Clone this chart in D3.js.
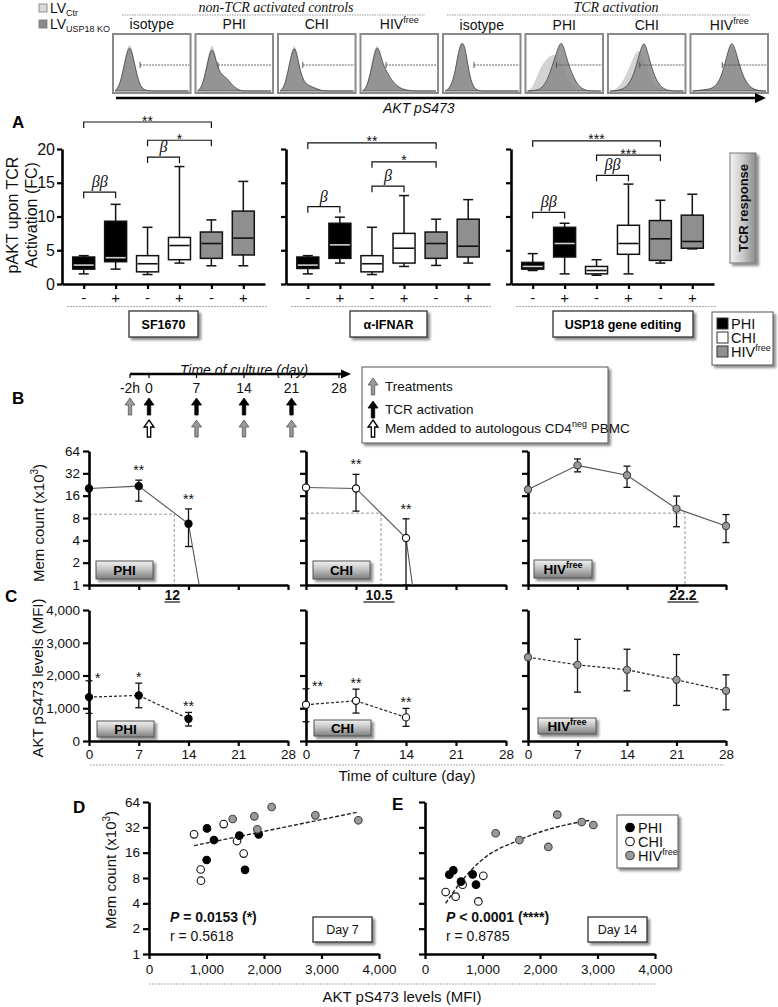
<!DOCTYPE html>
<html><head><meta charset="utf-8">
<script src="https://cdn.jsdelivr.net/npm/d3@7/dist/d3.min.js"></script>
<style>html,body{margin:0;padding:0;background:#fff}</style>
</head><body>
<svg id="fig" width="778" height="1007" xmlns="http://www.w3.org/2000/svg"></svg>
<script>
// ================= DATA =================
const lvNames = ["LV", "LV"];
const lvSubs = ["Ctr", "USP18 KO"];
const histGroupTitles = ["non-TCR activated controls", "TCR activation"];
const histLabels = ["isotype", "PHI", "CHI", "HIV", "isotype", "PHI", "CHI", "HIV"];
const histSup = ["", "", "", "free", "", "", "", "free"];
const histGate = [0.35, 0.29, 0.32, 0.33, 0.40, 0.40, 0.41, 0.41];
const histLight = [
  [0,0.1,0.6,1.0,0.55,0.12,0.02,0,0,0,0,0,0,0,0,0],
  [0,0.1,0.6,1.0,0.5,0.25,0.2,0.1,0.03,0,0,0,0,0,0,0],
  [0,0.1,0.6,1.0,0.45,0.15,0.08,0.08,0.03,0,0,0,0,0,0,0],
  [0,0.1,0.6,1.0,0.5,0.3,0.15,0.08,0.04,0.02,0,0,0,0,0,0],
  [0,0.05,0.3,0.95,0.9,0.3,0.05,0,0,0,0,0,0,0,0,0],
  [0,0.05,0.3,0.5,0.62,0.68,0.7,0.5,0.3,0.12,0.04,0.01,0,0,0,0],
  [0,0.02,0.1,0.25,0.45,0.7,0.8,0.6,0.35,0.15,0.05,0.01,0,0,0,0],
  [0,0.01,0.02,0.03,0.06,0.12,0.3,0.6,0.9,0.7,0.4,0.2,0.08,0.03,0.01,0]
];
const histDark = [
  [0,0.1,0.55,0.95,0.5,0.1,0.02,0,0,0,0,0,0,0,0,0],
  [0,0.08,0.5,0.92,0.45,0.3,0.25,0.12,0.04,0,0,0,0,0,0,0],
  [0,0.08,0.55,0.95,0.4,0.15,0.1,0.06,0.02,0,0,0,0,0,0,0],
  [0,0.08,0.5,0.95,0.55,0.35,0.2,0.1,0.04,0.02,0,0,0,0,0,0],
  [0,0.05,0.3,0.9,0.95,0.25,0.04,0,0,0,0,0,0,0,0,0],
  [0,0,0.02,0.06,0.2,0.45,0.75,1.0,0.6,0.35,0.15,0.05,0.01,0,0,0],
  [0,0,0.02,0.05,0.15,0.35,0.7,1.0,0.6,0.3,0.12,0.04,0.01,0,0,0],
  [0,0.01,0.02,0.03,0.05,0.12,0.3,0.65,1.0,0.7,0.35,0.15,0.05,0.02,0,0]
];

// Panel A : box stats [low, q1, median, q3, high]
const groupsA = ["PHI", "PHI", "CHI", "CHI", "HIV", "HIV"];
const condA = ["-", "+", "-", "+", "-", "+"];
const yTicksA = [0, 5, 10, 15, 20];
const statsSF1670 = [[1.5,2.2,2.8,4.0,4.2],[2.2,3.3,3.9,9.3,11.8],[1.4,1.8,3.0,4.2,8.4],[3.1,3.6,5.7,6.9,17.4],[2.7,3.8,6.0,7.7,9.5],[2.7,4.3,6.8,10.8,15.2]];
const statsIFNAR = [[1.5,2.3,2.8,4.0,4.2],[3.1,3.8,5.8,9.0,9.9],[1.4,1.8,3.0,4.2,8.4],[2.6,3.1,5.3,7.5,13.1],[2.75,3.8,6.0,7.7,9.6],[3.1,4.0,5.6,9.6,12.5]];
const statsUSP18 = [[2.0,2.2,2.6,3.2,4.5],[1.5,4.0,6.0,8.4,9.0],[1.3,1.5,2.0,2.6,3.6],[1.5,4.4,6.0,8.7,14.8],[3.1,3.5,6.7,9.4,12.4],[5.2,5.3,6.3,10.2,13.3]];
// brackets [fromBox, toBox, level(FC), label]
const bracketsSF1670 = [[0,4,24.0,"**"],[2,4,21.3,"*"],[2,3,18.8,"β"],[0,1,13.6,"ββ"]];
const bracketsIFNAR = [[0,4,20.9,"**"],[2,4,18.1,"*"],[2,3,14.5,"β"],[0,1,11.45,"β"]];
const bracketsUSP18 = [[0,4,21.2,"***"],[2,4,19.1,"***"],[2,3,16.1,"ββ"],[0,1,10.6,"ββ"]];
const treatmentTitles = ["SF1670", "α-IFNAR", "USP18 gene editing"];
const groupLegend = ["PHI", "CHI", "HIV"];

// Panel B timeline
const timelineTicks = ["-2h", "0", "7", "14", "21", "28"];
const timelineDays = [0, 7, 14, 21, 28];
const treatmentRow1 = ["-2h"];
const tcrDays = [0, 7, 14, 21];
const memAddedDays = [0];
const treatmentRow2 = [7, 14, 21];
const legendB = ["Treatments", "TCR activation", "Mem added to autologous CD4"];

// Panel B : Mem count (x10^3)
const daysPHI_B = [0, 7, 14, 15.5];
const countPHI = [20, 21.5, 6.7, 1];
const countPHI_lo = [null, 13.5, 3.3, null];
const countPHI_hi = [null, 25.9, 10.6, null];
const starsPHI_B = ["", "**", "**", ""];
const daysCHI_B = [0, 7, 14, 14.9];
const countCHI = [20.6, 20, 4.3, 1];
const countCHI_lo = [null, 9.9, 1, null];
const countCHI_hi = [null, 31, 7.8, null];
const starsCHI_B = ["", "**", "**", ""];
const daysHIV_B = [0, 7, 14, 21, 28];
const countHIV = [19.4, 41, 30.2, 10.7, 6.24];
const countHIV_lo = [null, 33.5, 20.7, 6.1, 3.73];
const countHIV_hi = [null, 50, 40, 15.8, 8.9];
const starsHIV_B = ["", "", "", "", ""];
const halfLevel = [9.0, 9.3, 9.3];
const halfDay = [12, 10.5, 22.2];
const halfLabel = ["12", "10.5", "22.2"];
const yTicksB = [1, 2, 4, 8, 16, 32, 64];

// Panel C : AKT pS473 (MFI)
const daysPHI_C = [0, 7, 14];
const aktPHI = [1340, 1391, 680];
const aktPHI_lo = [843, 1015, 457];
const aktPHI_hi = [1838, 1766, 873];
const starsPHI_C = ["*", "*", "**"];
const daysCHI_C = [0, 7, 14];
const aktCHI = [1107, 1228, 721];
const aktCHI_lo = [589, 853, 447];
const aktCHI_hi = [1594, 1584, 995];
const starsCHI_C = ["**", "**", "**"];
const daysHIV_C = [0, 7, 14, 21, 28];
const aktHIV = [2558, 2325, 2173, 1868, 1533];
const aktHIV_lo = [null, 1492, 1533, 1086, 954];
const aktHIV_hi = [null, 3107, 2802, 2640, 2020];
const starsHIV_C = ["", "", "", "", ""];
const yTicksC = [0, 1000, 2000, 3000, 4000];

// Panel D (day 7) and E (day 14): [AKT MFI, Mem count]
const d7PHI = [[1009,31.1],[1003,13.1],[1130,22.6],[1571,25.5],[1670,10.0],[1907,26.4]];
const d7CHI = [[783,26.4],[899,10.1],[904,7.43],[1299,35],[1530,22],[1646,15.6]];
const d7HIV = [[1455,40.2],[1832,43.2],[1884,30.3],[2133,55.8],[2893,44.4],[3641,38.8]];
const d7Fit = [[783,19.4],[1800,26.9],[2900,38.3],[3641,48.7]];
const d14PHI = [[423,8.76],[493,9.86],[626,7.25],[829,8.83],[887,6.67]];
const d14CHI = [[359,5.45],[533,4.8],[655,6.67],[928,4.22],[1014,8.5]];
const d14HIV = [[1229,27.2],[1641,22.6],[2145,18.7],[2301,45.3],[2725,37.0],[2928,34.1]];
const d14Fit = [[359,4.0],[640,7.4],[960,12.6],[1650,22.8],[2230,31.4],[2870,38.8]];
const xTicksDE = [0, 1000, 2000, 3000, 4000];
const statsD = ["P = 0.0153 (*)", "r = 0.5618", "Day 7"];
const statsE = ["P < 0.0001 (****)", "r = 0.8785", "Day 14"];

// ================= DRAWING =================
const FONT = '"Liberation Sans", Arial, Helvetica, sans-serif';
const SERIF = '"Liberation Serif", "Times New Roman", serif';
const svg = d3.select("#fig").attr("font-family", FONT);
const defs = svg.append("defs");
const sh = defs.append("filter").attr("id", "sh").attr("x", "-20%").attr("y", "-20%").attr("width", "150%").attr("height", "160%");
sh.append("feDropShadow").attr("dx", 2.5).attr("dy", 2.5).attr("stdDeviation", 1.3).attr("flood-color", "#000").attr("flood-opacity", 0.45);
const gb = defs.append("linearGradient").attr("id", "btn").attr("x1", 0).attr("y1", 0).attr("x2", 0).attr("y2", 1);
gb.append("stop").attr("offset", "0").attr("stop-color", "#f2f2f2");
gb.append("stop").attr("offset", "0.45").attr("stop-color", "#c4c4c4");
gb.append("stop").attr("offset", "1").attr("stop-color", "#7e7e7e");
const gh = defs.append("linearGradient").attr("id", "btnh").attr("x1", 0).attr("y1", 0).attr("x2", 1).attr("y2", 0);
gh.append("stop").attr("offset", "0").attr("stop-color", "#f4f4f4");
gh.append("stop").attr("offset", "0.5").attr("stop-color", "#c8c8c8");
gh.append("stop").attr("offset", "1").attr("stop-color", "#8a8a8a");

function styleAxis(g, fs) {
  g.attr("font-family", FONT);
  g.select(".domain").attr("stroke", "#000").attr("stroke-width", 2.6);
  g.selectAll(".tick line").attr("stroke", "#000").attr("stroke-width", 2.2);
  g.selectAll(".tick text").attr("font-size", fs || 13).attr("fill", "#111");
}
function txt(g, x, y, s, o) {
  o = o || {};
  const t = g.append("text").attr("x", x).attr("y", y).text(s)
    .attr("font-size", o.size || 13).attr("text-anchor", o.anchor || "start")
    .attr("font-family", o.family || FONT).attr("fill", o.fill || "#111");
  if (o.weight) t.attr("font-weight", o.weight);
  if (o.style) t.attr("font-style", o.style);
  return t;
}
function sup(t, s, size, dy) {
  t.append("tspan").attr("font-size", size).attr("dy", dy).text(s);
}
function button(g, x, y, w, h, label, supText, grad) {
  g.append("rect").attr("x", x).attr("y", y).attr("width", w).attr("height", h)
    .attr("fill", grad ? "url(#btn)" : "#fff").attr("stroke", "#555").attr("stroke-width", 1).attr("filter", "url(#sh)");
  const t = txt(g, x + w / 2, y + h / 2 + 5, label, {anchor: "middle", size: 13.5, weight: "bold", fill: "#000"});
  if (supText) sup(t, supText, 9, -6);
}

// ---------- TOP: legend + histograms ----------
const topG = svg.append("g");
[0, 1].forEach(i => {
  topG.append("rect").attr("x", 39).attr("y", 4 + i * 16).attr("width", 8).attr("height", 8)
    .attr("fill", i ? "#8a8a8a" : "#dadada").attr("stroke", "#777").attr("stroke-width", 0.8);
  const t = txt(topG, 50, 13 + i * 16, lvNames[i], {size: 14});
  t.append("tspan").attr("font-size", 9).attr("dy", 3).text(lvSubs[i]);
});
txt(topG, 276, 12, histGroupTitles[0], {anchor: "middle", size: 14, family: SERIF, style: "italic"});
txt(topG, 616, 11.5, histGroupTitles[1], {anchor: "middle", size: 14, family: SERIF, style: "italic"});
topG.append("line").attr("x1", 122).attr("x2", 425).attr("y1", 15).attr("y2", 15).attr("stroke", "#999").attr("stroke-dasharray", "1.5,1");
topG.append("line").attr("x1", 447).attr("x2", 750).attr("y1", 15).attr("y2", 15).attr("stroke", "#999").attr("stroke-dasharray", "1.5,1");

const hx = d3.scaleBand().domain(d3.range(8)).range([113, 768]).paddingInner(0.06);
const hy = d3.scaleLinear().domain([0, 1]).range([91, 38]);
histLabels.forEach((lab, i) => {
  const x0 = hx(i), bw = hx.bandwidth();
  const g = topG.append("g");
  const bx = d3.scaleLinear().domain([0, 15]).range([x0 + 2, x0 + bw - 2]);
  const area = d3.area().x((d, j) => bx(j)).y0(hy(0)).y1(d => hy(d)).curve(d3.curveBasis);
  g.append("path").datum(histLight[i]).attr("d", area).attr("fill", "#d3d3d3");
  g.append("path").datum(histDark[i]).attr("d", area).attr("fill", "#888").attr("fill-opacity", 0.85)
    .attr("stroke", "#333").attr("stroke-width", 0.7);
  const gx = x0 + bw * histGate[i];
  g.append("line").attr("x1", gx).attr("x2", x0 + bw - 1).attr("y1", 65).attr("y2", 65)
    .attr("stroke", "#555").attr("stroke-dasharray", "2,1").attr("stroke-width", 0.9);
  g.append("line").attr("x1", gx).attr("x2", gx).attr("y1", 62).attr("y2", 68).attr("stroke", "#555");
  g.append("rect").attr("x", x0).attr("y", 34).attr("width", bw).attr("height", 59)
    .attr("fill", "none").attr("stroke", "#8a8a8a").attr("stroke-width", 2);
  const t = txt(topG, x0 + bw / 2, i < 4 ? 29 : 30, lab, {anchor: "middle", size: 14});
  if (histSup[i]) sup(t, histSup[i], 9, -6);
});
// AKT arrow
topG.append("line").attr("x1", 116).attr("x2", 757).attr("y1", 98).attr("y2", 98).attr("stroke", "#000").attr("stroke-width", 2.6);
topG.append("path").attr("d", "M766,98 L755,93 L755,103 Z").attr("fill", "#000");
txt(topG, 383, 113, "AKT pS473", {size: 14, style: "italic"});

// ---------- PANEL A ----------
const A = svg.append("g");
txt(A, 12, 128, "A", {size: 17, weight: "bold", fill: "#000"});
const yA = d3.scaleLinear().domain([0, 20]).range([284, 149]);
A.append("text").attr("transform", "translate(18,215) rotate(-90)").attr("text-anchor", "middle")
  .attr("font-size", 16).attr("fill", "#111").text("pAKT upon TCR");
A.append("text").attr("transform", "translate(37,215) rotate(-90)").attr("text-anchor", "middle")
  .attr("font-size", 16).attr("fill", "#111").text("Activation (FC)");
const fillsA = ["#000", "#000", "#fff", "#fff", "#8f8f8f", "#8f8f8f"];
const plotAX = [[62, 265], [286, 490], [511, 714]];
const titleBoxA = [[129, 198], [350, 427], [553, 693]];
const allStats = [statsSF1670, statsIFNAR, statsUSP18];
const allBrackets = [bracketsSF1670, bracketsIFNAR, bracketsUSP18];

allStats.forEach((stats, p) => {
  const xr = plotAX[p];
  const x = d3.scalePoint().domain(d3.range(6)).range(xr).padding(0.68);
  const g = A.append("g");
  const ya = g.append("g").attr("transform", `translate(${xr[0]},0)`)
    .call(d3.axisLeft(yA).tickValues(yTicksA).tickSize(5).tickPadding(2).tickSizeOuter(0).tickFormat(p === 0 ? d3.format("d") : ""));
  styleAxis(ya, 16);
  const xa = g.append("g").attr("transform", `translate(0,${yA(0)})`)
    .call(d3.axisBottom(x).tickSize(5).tickSizeOuter(0).tickFormat(""));
  styleAxis(xa);
  stats.forEach((s, i) => {
    const cx = x(i), w = 22;
    g.append("line").attr("x1", cx).attr("x2", cx).attr("y1", yA(s[0])).attr("y2", yA(s[4])).attr("stroke", "#111").attr("stroke-width", 1.5);
    [s[0], s[4]].forEach(v => g.append("line").attr("x1", cx - 5).attr("x2", cx + 5).attr("y1", yA(v)).attr("y2", yA(v)).attr("stroke", "#111").attr("stroke-width", 1.5));
    g.append("rect").attr("x", cx - w / 2).attr("y", yA(s[3])).attr("width", w).attr("height", yA(s[1]) - yA(s[3]))
      .attr("fill", fillsA[i]).attr("stroke", "#111").attr("stroke-width", 1.5);
    g.append("line").attr("x1", cx - w / 2 + 1).attr("x2", cx + w / 2 - 1).attr("y1", yA(s[2])).attr("y2", yA(s[2]))
      .attr("stroke", fillsA[i] === "#000" ? "#cfcfcf" : "#111").attr("stroke-width", 1.6);
    txt(g, cx, 303, condA[i], {anchor: "middle", size: 15});
  });
  g.append("line").attr("x1", xr[0] + 5).attr("x2", xr[1] + 2).attr("y1", 306.5).attr("y2", 306.5)
    .attr("stroke", "#aaa").attr("stroke-dasharray", "2,1");
  allBrackets[p].forEach(b => {
    const yy = yA(b[2]);
    g.append("path").attr("d", `M${x(b[0])},${yy + 6}V${yy}H${x(b[1])}V${yy + 6}`)
      .attr("fill", "none").attr("stroke", "#111").attr("stroke-width", 1.2);
    const mid = (x(b[0]) + x(b[1])) / 2;
    if (b[3].indexOf("*") >= 0) txt(g, mid, yy + 3.5, b[3], {anchor: "middle", size: 14});
    else txt(g, mid, yy - 5, b[3], {anchor: "middle", size: 16, family: SERIF, style: "italic"});
  });
  const tb = titleBoxA[p];
  g.append("rect").attr("x", tb[0]).attr("y", 311).attr("width", tb[1] - tb[0]).attr("height", 26)
    .attr("fill", "#fff").attr("stroke", "#333").attr("stroke-width", 1.3).attr("filter", "url(#sh)");
  txt(g, (tb[0] + tb[1]) / 2, 328.5, treatmentTitles[p], {anchor: "middle", size: 12.5, weight: "bold", fill: "#000"});
});
// TCR response button
A.append("rect").attr("x", 730).attr("y", 153).attr("width", 26).attr("height", 110)
  .attr("fill", "url(#btnh)").attr("stroke", "#777").attr("stroke-width", 1).attr("filter", "url(#sh)");
A.append("text").attr("transform", "translate(748,208) rotate(-90)").attr("text-anchor", "middle")
  .attr("font-size", 13).attr("font-weight", "bold").attr("fill", "#111").text("TCR response");
// group legend
A.append("rect").attr("x", 712).attr("y", 312).attr("width", 61).attr("height", 53)
  .attr("fill", "#fff").attr("stroke", "#555").attr("stroke-width", 1).attr("filter", "url(#sh)");
const legFill = ["#000", "#fff", "#8f8f8f"];
groupLegend.forEach((n, i) => {
  const cy = 323.5 + i * 14;
  A.append("rect").attr("x", 717).attr("y", cy - 5.5).attr("width", 11).attr("height", 11)
    .attr("fill", legFill[i]).attr("stroke", "#333").attr("stroke-width", 1);
  const t = txt(A, 731, cy + 5, n, {size: 14.5});
  if (i === 2) sup(t, "free", 9, -6);
});

// ---------- PANEL B : timeline ----------
const B = svg.append("g");
txt(B, 12, 404, "B", {size: 17, weight: "bold", fill: "#000"});
const tx = d3.scaleLinear().domain([0, 28]).range([149, 339]);
const tPos = d => (d === "-2h" ? tx(0) - 19 : tx(+d));
B.append("line").attr("x1", 130).attr("x2", 343).attr("y1", 374).attr("y2", 374).attr("stroke", "#000").attr("stroke-width", 2.4);
B.append("path").attr("d", "M351,374 L341,369.5 L341,378.5 Z").attr("fill", "#000");
txt(B, 244, 375, "Time of culture (day)", {anchor: "middle", size: 14, style: "italic"});
timelineTicks.forEach(d => {
  B.append("line").attr("x1", tPos(d)).attr("x2", tPos(d)).attr("y1", 374).attr("y2", 378).attr("stroke", "#000").attr("stroke-width", 1.2);
  txt(B, tPos(d), 393, d, {anchor: "middle", size: 14});
});
function upArrow(g, cx, topY, kind) {
  const h = 17;
  const fill = kind === "black" ? "#000" : kind === "gray" ? "#999" : "#fff";
  g.append("path").attr("d", `M${cx},${topY} L${cx + 5},${topY + 7} L${cx + 1.7},${topY + 7} L${cx + 1.7},${topY + h} L${cx - 1.7},${topY + h} L${cx - 1.7},${topY + 7} L${cx - 5},${topY + 7} Z`)
    .attr("fill", fill).attr("stroke", kind === "gray" ? "#555" : "#000").attr("stroke-width", kind === "white" ? 1.3 : 0.8);
}
treatmentRow1.forEach(d => upArrow(B, tPos(d), 398, "gray"));
tcrDays.forEach(d => upArrow(B, tPos(d), 398, "black"));
memAddedDays.forEach(d => upArrow(B, tPos(d), 420, "white"));
treatmentRow2.forEach(d => upArrow(B, tPos(d), 420, "gray"));
B.append("rect").attr("x", 362).attr("y", 367).attr("width", 246).attr("height", 76)
  .attr("fill", "#fff").attr("stroke", "#555").attr("stroke-width", 1).attr("filter", "url(#sh)");
["gray", "black", "white"].forEach((k, i) => {
  const cy = [386, 409, 428][i];
  upArrow(B, 373, cy - 8, k);
  const t = txt(B, 385, cy + 5, legendB[i], {size: 13.5});
  if (i === 2) { sup(t, "neg", 9, -6); t.append("tspan").attr("dy", 6).text(" PBMC"); }
});

// ---------- PANEL B : Mem count curves ----------
const plotX = [[89, 288], [306, 506], [528, 726]];
const yB = d3.scaleLog().base(2).domain([1, 64]).range([585, 451]);
const yC = d3.scaleLinear().domain([0, 4000]).range([741, 610]);
const ptStyle = [{fill: "#000", stroke: "#000"}, {fill: "#fff", stroke: "#111"}, {fill: "#9a9a9a", stroke: "#444"}];
const btnB = [[96, 561], [313, 561], [534, 560]];
const btnC = [[97, 721], [314, 720], [538, 718]];
const btnW = [57, 57, 58];
const groupNames = ["PHI", "CHI", "HIV"];
const seriesB = [
  [daysPHI_B, countPHI, countPHI_lo, countPHI_hi, starsPHI_B],
  [daysCHI_B, countCHI, countCHI_lo, countCHI_hi, starsCHI_B],
  [daysHIV_B, countHIV, countHIV_lo, countHIV_hi, starsHIV_B]
];
const seriesC = [
  [daysPHI_C, aktPHI, aktPHI_lo, aktPHI_hi, starsPHI_C],
  [daysCHI_C, aktCHI, aktCHI_lo, aktCHI_hi, starsCHI_C],
  [daysHIV_C, aktHIV, aktHIV_lo, aktHIV_hi, starsHIV_C]
];
B.append("text").attr("transform", "translate(44,523) rotate(-90)").attr("text-anchor", "middle")
  .attr("font-size", 15).attr("fill", "#111").text("Mem count (x10").call(t => { sup(t, "3", 10, -6); t.append("tspan").attr("dy", 6).text(")"); });

function errBars(g, x, y, days, lo, hi) {
  days.forEach((d, i) => {
    if (lo[i] == null || hi[i] == null) return;
    g.append("line").attr("x1", x(d)).attr("x2", x(d)).attr("y1", y(lo[i])).attr("y2", y(hi[i])).attr("stroke", "#111").attr("stroke-width", 1.3);
    [lo[i], hi[i]].forEach(v => g.append("line").attr("x1", x(d) - 3.5).attr("x2", x(d) + 3.5).attr("y1", y(v)).attr("y2", y(v)).attr("stroke", "#111").attr("stroke-width", 1.3));
  });
}

seriesB.forEach((s, p) => {
  const [days, vals, lo, hi, stars] = s;
  const x = d3.scaleLinear().domain([0, 28]).range(plotX[p]);
  const g = B.append("g");
  g.append("path").attr("d", `M${x(0)},${yB(halfLevel[p])}H${x(halfDay[p])}V${yB(1)}`)
    .attr("fill", "none").attr("stroke", "#888").attr("stroke-width", 0.9).attr("stroke-dasharray", "3,2");
  const ya = g.append("g").attr("transform", `translate(${plotX[p][0]},0)`)
    .call(d3.axisLeft(yB).tickValues(yTicksB).tickSize(6).tickSizeOuter(0).tickFormat(p === 0 ? d3.format("d") : ""));
  styleAxis(ya, 13.5);
  const xa = g.append("g").attr("transform", `translate(0,${yB(1)})`)
    .call(d3.axisBottom(x).tickValues(timelineDays).tickSize(5).tickSizeOuter(0).tickFormat(""));
  styleAxis(xa);
  const line = d3.line().x((d, i) => x(days[i])).y(d => yB(d));
  g.append("path").datum(vals).attr("d", line).attr("fill", "none").attr("stroke", "#555").attr("stroke-width", 1.1);
  errBars(g, x, yB, days, lo, hi);
  days.forEach((d, i) => {
    if (vals[i] <= 1) return;
    g.append("circle").attr("cx", x(d)).attr("cy", yB(vals[i])).attr("r", 3.6)
      .attr("fill", ptStyle[p].fill).attr("stroke", ptStyle[p].stroke).attr("stroke-width", 1.1);
    if (stars[i]) txt(g, x(d), yB(hi[i]) - 5, stars[i], {anchor: "middle", size: 14});
  });
  const lx = x(halfDay[p]) - 2;
  txt(g, lx, 600, halfLabel[p], {anchor: "middle", size: 14, weight: "bold"});
  const tw = halfLabel[p].length * 7.8;
  g.append("line").attr("x1", lx - tw / 2).attr("x2", lx + tw / 2).attr("y1", 602).attr("y2", 602).attr("stroke", "#111").attr("stroke-width", 1.2);
  button(g, btnB[p][0], btnB[p][1], btnW[p], 18, groupNames[p], p === 2 ? "free" : "", true);
});

// ---------- PANEL C ----------
const C = svg.append("g");
txt(C, 5, 602, "C", {size: 17, weight: "bold", fill: "#000"});
C.append("text").attr("transform", "translate(43,678) rotate(-90)").attr("text-anchor", "middle")
  .attr("font-size", 15).attr("fill", "#111").text("AKT pS473 levels (MFI)");
seriesC.forEach((s, p) => {
  const [days, vals, lo, hi, stars] = s;
  const x = d3.scaleLinear().domain([0, 28]).range(plotX[p]);
  const g = C.append("g");
  const ya = g.append("g").attr("transform", `translate(${plotX[p][0]},0)`)
    .call(d3.axisLeft(yC).tickValues(yTicksC).tickSize(6).tickSizeOuter(0).tickFormat(p === 0 ? d3.format(",") : ""));
  styleAxis(ya, 13.5);
  const xa = g.append("g").attr("transform", `translate(0,${yC(0)})`)
    .call(d3.axisBottom(x).tickValues(timelineDays).tickSize(5).tickSizeOuter(0).tickPadding(3));
  styleAxis(xa, 13.5);
  const line = d3.line().x((d, i) => x(days[i])).y(d => yC(d));
  errBars(g, x, yC, days, lo, hi);
  g.append("path").datum(vals).attr("d", line).attr("fill", "none").attr("stroke", "#222").attr("stroke-width", 1.2).attr("stroke-dasharray", "3,2");
  days.forEach((d, i) => {
    g.append("circle").attr("cx", x(d)).attr("cy", yC(vals[i])).attr("r", 3.6)
      .attr("fill", ptStyle[p].fill).attr("stroke", ptStyle[p].stroke).attr("stroke-width", 1.1);
    if (stars[i]) {
      if (d === 0) txt(g, x(d) + 6, yC(hi[i]) + 2, stars[i], {size: 14});
      else txt(g, x(d), yC(hi[i]) - 1, stars[i], {anchor: "middle", size: 14});
    }
  });
  button(g, btnC[p][0], btnC[p][1], btnW[p], 16, groupNames[p], p === 2 ? "free" : "", true);
});
C.append("line").attr("x1", 90).attr("x2", 724).attr("y1", 765).attr("y2", 765).attr("stroke", "#aaa").attr("stroke-dasharray", "2,1");
txt(C, 407, 781, "Time of culture (day)", {anchor: "middle", size: 15});

// ---------- PANELS D & E ----------
const DE = svg.append("g");
const yD = d3.scaleLog().base(2).domain([1, 64]).range([954, 802]);
txt(DE, 73, 813, "D", {size: 17, weight: "bold", fill: "#000"});
txt(DE, 392, 810, "E", {size: 17, weight: "bold", fill: "#000"});
DE.append("text").attr("transform", "translate(116,870) rotate(-90)").attr("text-anchor", "middle")
  .attr("font-size", 15).attr("fill", "#111").text("Mem count (x10").call(t => { sup(t, "3", 10, -6); t.append("tspan").attr("dy", 6).text(")"); });
const scatterSets = [[d7PHI, d7CHI, d7HIV, d7Fit, statsD, [149, 379]], [d14PHI, d14CHI, d14HIV, d14Fit, statsE, [425, 655]]];
scatterSets.forEach((s, p) => {
  const [ph, ch, hv, fit, st, xr] = s;
  const x = d3.scaleLinear().domain([0, 4000]).range(xr);
  const g = DE.append("g");
  const ya = g.append("g").attr("transform", `translate(${xr[0]},0)`)
    .call(d3.axisLeft(yD).tickValues(yTicksB).tickSize(6).tickSizeOuter(0).tickFormat(p === 0 ? d3.format("d") : ""));
  styleAxis(ya, 13.5);
  const xa = g.append("g").attr("transform", `translate(0,${yD(1)})`)
    .call(d3.axisBottom(x).tickValues(xTicksDE).tickSize(5).tickSizeOuter(0).tickPadding(5).tickFormat(d3.format(",")));
  styleAxis(xa, 13.5);
  g.append("path").datum(fit).attr("d", d3.line().x(d => x(d[0])).y(d => yD(d[1])).curve(d3.curveMonotoneX))
    .attr("fill", "none").attr("stroke", "#222").attr("stroke-width", 1.4).attr("stroke-dasharray", "4,2");
  [ch, ph, hv].forEach((set, k) => {
    const sIdx = [1, 0, 2][k];
    set.forEach(d => g.append("circle").attr("cx", x(d[0])).attr("cy", yD(d[1])).attr("r", 3.8)
      .attr("fill", ptStyle[sIdx].fill).attr("stroke", ptStyle[sIdx].stroke).attr("stroke-width", 1.1));
  });
  const px = xr[0] + 21;
  const t1 = g.append("text").attr("x", px).attr("y", 922).attr("font-size", 14).attr("font-weight", "bold").attr("fill", "#111");
  t1.append("tspan").attr("font-style", "italic").text(st[0].slice(0, 1));
  t1.append("tspan").text(st[0].slice(1));
  txt(g, px, 941, st[1], {size: 14});
  const bx0 = p === 0 ? 313 : 588;
  g.append("rect").attr("x", bx0).attr("y", 917).attr("width", 59).attr("height", 25)
    .attr("fill", "#fff").attr("stroke", "#333").attr("stroke-width", 1.3).attr("filter", "url(#sh)");
  txt(g, bx0 + 29.5, 934, st[2], {anchor: "middle", size: 12.5});
});
DE.append("rect").attr("x", 617).attr("y", 815).attr("width", 61).attr("height", 53)
  .attr("fill", "#fff").attr("stroke", "#555").attr("stroke-width", 1).attr("filter", "url(#sh)");
groupLegend.forEach((n, i) => {
  const cy = 827.5 + i * 14;
  DE.append("circle").attr("cx", 630).attr("cy", cy).attr("r", 4.3)
    .attr("fill", ptStyle[i].fill).attr("stroke", ptStyle[i].stroke).attr("stroke-width", 1.1);
  const t = txt(DE, 638, cy + 5, n, {size: 14.5});
  if (i === 2) sup(t, "free", 9, -6);
});
DE.append("line").attr("x1", 149).attr("x2", 655).attr("y1", 984).attr("y2", 984).attr("stroke", "#aaa").attr("stroke-dasharray", "2,1");
txt(DE, 402, 1002, "AKT pS473 levels (MFI)", {anchor: "middle", size: 15});
</script>
</body></html>
